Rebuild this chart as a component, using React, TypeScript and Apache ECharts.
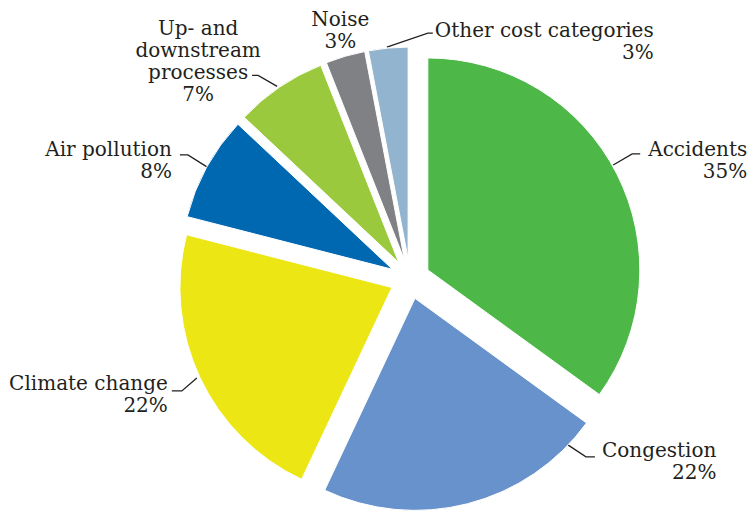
import React, { useEffect, useRef } from "react";
import * as echarts from "echarts";

// ---- data ----
const categories = [
  "Accidents",
  "Congestion",
  "Climate change",
  "Air pollution",
  "Up- and\ndownstream\nprocesses",
  "Noise",
  "Other cost categories",
];
const shares = [35, 22, 22, 8, 7, 3, 3];
const colors = ["#4db848", "#6792cb", "#ece614", "#0067b1", "#9ac93d", "#808184", "#93b4cf"];

// ---- layout ----
const CENTER: [number, number] = [410, 279];
const RADIUS = 212;
const OFFSET = 20;
type LabelGeom = {
  angle: number; r: number; bend: [number, number]; tail: number;
  mode: "after" | "before" | "center"; gap: number; dy: number; dx?: number; line: boolean;
};
// leader line: start on rim (angle cw from 12 o'clock, distance from pie centre), bend offset, horizontal tail
const LABEL_GEOM: LabelGeom[] = [
  { angle: 60.7, r: 233, bend: [19, -11], tail: 8, mode: "after", gap: 8, dy: 6.5, line: true },
  { angle: 136.4, r: 229, bend: [18, 12], tail: 9, mode: "after", gap: 7, dy: 4.5, line: true },
  { angle: 245.1, r: 235, bend: [-15, 13], tail: -10, mode: "before", gap: 4, dy: 3, line: true },
  { angle: 298.9, r: 232, bend: [-19, -12], tail: -8, mode: "before", gap: 8, dy: 5.5, line: true },
  { angle: 325.4, r: 234, bend: [-19, -11], tail: -6, mode: "center", gap: 4, dx: -50, dy: -14.5, line: true },
  { angle: 343.8, r: 232, bend: [0, 0], tail: 0, mode: "center", gap: 0, dx: -5, dy: -26, line: false },
  { angle: 354.3, r: 233, bend: [41, -14], tail: 5, mode: "after", gap: 2, dy: 8, line: true },
];

export default function App() {
  const ref = useRef<HTMLDivElement>(null);
  useEffect(() => {
    if (!ref.current) return;
    const chart = echarts.init(ref.current, null, { renderer: "svg" });
    const sliceData = categories.map((name, i) => ({
      name,
      value: shares[i],
      selected: true,
      itemStyle: { color: colors[i] },
    }));
    const labelData = categories.map((name, i) => ({
      name,
      value: shares[i],
      labelLine: { show: LABEL_GEOM[i].line },
    }));
    chart.setOption({
      animation: false,
      backgroundColor: "#ffffff",
      series: [
        {
          type: "pie",
          center: CENTER,
          radius: RADIUS,
          startAngle: 90,
          clockwise: true,
          selectedMode: "multiple",
          selectedOffset: OFFSET,
          emphasis: { disabled: true },
          select: { itemStyle: { borderColor: "#ffffff", borderWidth: 1 } },
          itemStyle: { borderColor: "#ffffff", borderWidth: 1 },
          label: { show: false },
          labelLine: { show: false },
          data: sliceData,
        },
        {
          type: "pie",
          center: CENTER,
          radius: RADIUS,
          startAngle: 90,
          clockwise: true,
          selectedMode: false,
          silent: true,
          avoidLabelOverlap: false,
          emphasis: { disabled: true },
          itemStyle: { color: "rgba(0,0,0,0)", borderWidth: 0 },
          label: {
            show: true,
            position: "outside",
            fontFamily: "DejaVu Serif",
            fontSize: 20,
            lineHeight: 22,
            color: "#231f20",
            formatter: (p: any) => `${p.name}\n${p.value}%`,
          },
          labelLine: {
            show: true,
            lineStyle: { color: "#231f20", width: 1.3 },
          },
          labelLayout: (p: any) => {
            const g = LABEL_GEOM[p.dataIndex];
            const a = (g.angle * Math.PI) / 180;
            const sx = CENTER[0] + g.r * Math.sin(a);
            const sy = CENTER[1] - g.r * Math.cos(a);
            const bx = sx + g.bend[0];
            const by = sy + g.bend[1];
            const ex = bx + g.tail;
            const ey = by;
            const w = p.labelRect.width;
            let x = ex;
            let align = "right";
            if (g.mode === "after") { x = ex + g.gap + w; align = "right"; }
            else if (g.mode === "before") { x = ex - g.gap; align = "right"; }
            else { x = ex - g.gap + (g.dx || 0); align = "center"; }
            return {
              x,
              y: ey + g.dy,
              align,
              verticalAlign: "middle",
              labelLinePoints: [[sx, sy], [bx, by], [ex, ey]],
            };
          },
          data: labelData,
        },
      ],
    });
    return () => chart.dispose();
  }, []);
  return (
    <div
      ref={ref}
      style={{ position: "absolute", left: 0, top: 0, width: 749, height: 511, background: "#fff" }}
    />
  );
}
